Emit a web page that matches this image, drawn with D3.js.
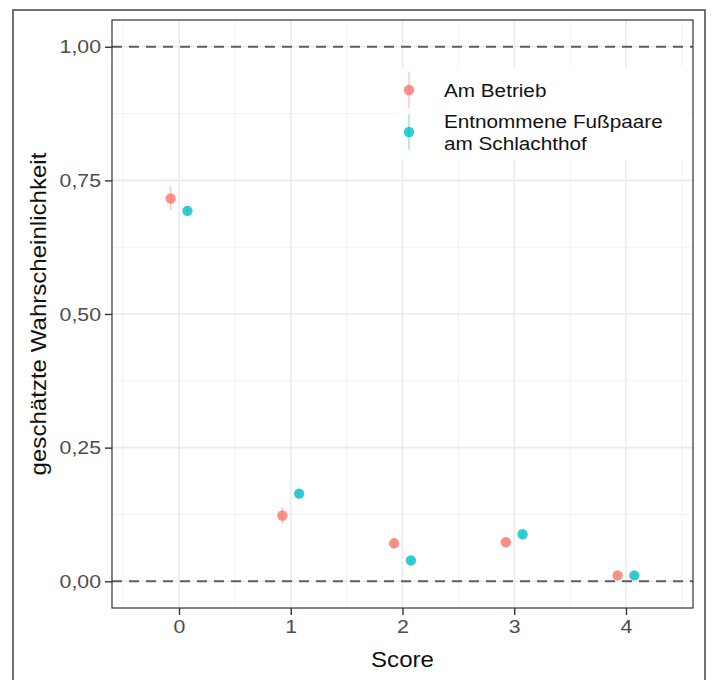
<!DOCTYPE html>
<html>
<head>
<meta charset="utf-8">
<script src="https://cdn.jsdelivr.net/npm/d3@7"></script>
<style>
  body { margin: 0; background: #fff; }
  svg { font-family: "Liberation Sans", Arial, sans-serif; }
</style>
</head>
<body>
<div id="chart"></div>
<script>
// scores on the x axis
var scores = [0, 1, 2, 3, 4];
var seriesNames = ["Am Betrieb", "Entnommene Fußpaare am Schlachthof"];
var seriesColors = ["#F8766D", "#00BFC4"];

// estimated probabilities
var betriebMean = [0.716, 0.123, 0.071, 0.073, 0.011];
var betriebLow  = [0.694, 0.108, 0.062, 0.064, 0.006];
var betriebHigh = [0.738, 0.138, 0.080, 0.082, 0.016];

var schlachtMean = [0.693, 0.164, 0.039, 0.088, 0.011];
var schlachtLow  = [0.684, 0.156, 0.034, 0.082, 0.008];
var schlachtHigh = [0.702, 0.172, 0.044, 0.094, 0.014];

var yTicks = [0, 0.25, 0.5, 0.75, 1];
var yMinor = [0.125, 0.375, 0.625, 0.875];
var xMinor = [-0.5, 0.5, 1.5, 2.5, 3.5, 4.5];
var refLines = [0, 1];

var width = 713, height = 680;
var panel = {left: 112, top: 20, right: 693, bottom: 608};
var dodge = 0.075;
var sx = 1.12; // the text in the picture is a little wider than the font

var svg = d3.select('#chart').append('svg')
  .attr('width', width)
  .attr('height', height);

// outer frame round the figure
svg.append('rect')
  .attr('x', 13).attr('y', 10)
  .attr('width', 692).attr('height', 680)
  .attr('fill', 'none')
  .attr('stroke', '#444')
  .attr('stroke-width', 1.5);

var x = d3.scaleLinear()
  .domain([-0.6, 4.6])
  .range([panel.left, panel.right]);

var y = d3.scaleLinear()
  .domain([-0.05, 1.05])
  .range([panel.bottom, panel.top]);

var fmt = function(v) { return d3.format('.2f')(v).replace('.', ','); };

// grid
var grid = svg.append('g');
grid.selectAll('.yminor').data(yMinor).enter().append('line')
  .attr('x1', panel.left).attr('x2', panel.right)
  .attr('y1', function(d) { return y(d); }).attr('y2', function(d) { return y(d); })
  .attr('stroke', '#F2F2F2').attr('stroke-width', 1);
grid.selectAll('.xminor').data(xMinor).enter().append('line')
  .attr('y1', panel.top).attr('y2', panel.bottom)
  .attr('x1', function(d) { return x(d); }).attr('x2', function(d) { return x(d); })
  .attr('stroke', '#F2F2F2').attr('stroke-width', 1);
grid.selectAll('.ymajor').data(yTicks).enter().append('line')
  .attr('x1', panel.left).attr('x2', panel.right)
  .attr('y1', function(d) { return y(d); }).attr('y2', function(d) { return y(d); })
  .attr('stroke', '#EBEBEB').attr('stroke-width', 1.6);
grid.selectAll('.xmajor').data(scores).enter().append('line')
  .attr('y1', panel.top).attr('y2', panel.bottom)
  .attr('x1', function(d) { return x(d); }).attr('x2', function(d) { return x(d); })
  .attr('stroke', '#EBEBEB').attr('stroke-width', 1.6);

// dashed reference lines at 0 and 1
svg.selectAll('.ref').data(refLines).enter().append('line')
  .attr('x1', panel.left).attr('x2', panel.right)
  .attr('y1', function(d) { return y(d); }).attr('y2', function(d) { return y(d); })
  .attr('stroke', '#5E5E5E').attr('stroke-width', 2)
  .attr('stroke-dasharray', '10,7');

// points with ranges
var series = [
  {mean: betriebMean, low: betriebLow, high: betriebHigh, off: -dodge},
  {mean: schlachtMean, low: schlachtLow, high: schlachtHigh, off: dodge}
];
series.forEach(function(s, k) {
  var rows = scores.map(function(sc, i) {
    return {x: sc + s.off, m: s.mean[i], lo: s.low[i], hi: s.high[i]};
  });
  var g = svg.append('g');
  g.selectAll('line').data(rows).enter().append('line')
    .attr('x1', function(d) { return x(d.x); }).attr('x2', function(d) { return x(d.x); })
    .attr('y1', function(d) { return y(d.lo); }).attr('y2', function(d) { return y(d.hi); })
    .attr('stroke', seriesColors[k]).attr('stroke-opacity', 0.5).attr('stroke-width', 1.2);
  g.selectAll('circle').data(rows).enter().append('circle')
    .attr('cx', function(d) { return x(d.x); })
    .attr('cy', function(d) { return y(d.m); })
    .attr('r', 5.2)
    .attr('fill', seriesColors[k]).attr('fill-opacity', 0.8);
});

// panel border
svg.append('rect')
  .attr('x', panel.left).attr('y', panel.top)
  .attr('width', panel.right - panel.left).attr('height', panel.bottom - panel.top)
  .attr('fill', 'none').attr('stroke', '#333').attr('stroke-width', 1.2);

// axes
var yAxis = svg.append('g')
  .attr('transform', 'translate(' + panel.left + ',0)')
  .call(d3.axisLeft(y).tickValues(yTicks).tickFormat(fmt).tickSize(7).tickPadding(4));
var xAxis = svg.append('g')
  .attr('transform', 'translate(0,' + panel.bottom + ')')
  .call(d3.axisBottom(x).tickValues(scores).tickFormat(d3.format('d')).tickSize(7).tickPadding(5));
[yAxis, xAxis].forEach(function(a) {
  a.select('.domain').remove();
  a.selectAll('.tick line').attr('stroke', '#333').attr('stroke-width', 1.4);
  a.selectAll('.tick text').attr('fill', '#4D4D4D').style('font-size', '19px');
});
yAxis.selectAll('.tick text')
  .attr('x', -11 / sx)
  .attr('transform', 'scale(' + sx + ',1)');
xAxis.selectAll('.tick text')
  .attr('transform', 'scale(' + sx + ',1)');

svg.append('text')
  .attr('transform', 'translate(' + ((panel.left + panel.right) / 2) + ',667) scale(' + sx + ',1)')
  .attr('text-anchor', 'middle')
  .style('font-size', '21.5px').attr('fill', '#111')
  .text('Score');

svg.append('text')
  .attr('transform', 'translate(46,' + ((panel.top + panel.bottom) / 2) + ') rotate(-90) scale(' + sx + ',1)')
  .attr('text-anchor', 'middle')
  .style('font-size', '21.5px').attr('fill', '#111')
  .text('geschätzte Wahrscheinlichkeit');

// legend
var legend = svg.append('g');
legend.append('rect')
  .attr('x', 398).attr('y', 68).attr('width', 290).attr('height', 92)
  .attr('fill', '#fff');
var legendRows = [
  {y: 90, lines: ['Am Betrieb']},
  {y: 132, lines: ['Entnommene Fußpaare', 'am Schlachthof']}
];
legendRows.forEach(function(r, k) {
  legend.append('line')
    .attr('x1', 409).attr('x2', 409)
    .attr('y1', r.y - 18).attr('y2', r.y + 18)
    .attr('stroke', seriesColors[k]).attr('stroke-opacity', 0.5).attr('stroke-width', 1.2);
  legend.append('circle')
    .attr('cx', 409).attr('cy', r.y).attr('r', 5.2)
    .attr('fill', seriesColors[k]).attr('fill-opacity', 0.8);
  var t = legend.append('text')
    .attr('transform', 'translate(444,' + (r.y - (r.lines.length - 1) * 11 + 7) + ') scale(' + sx + ',1)')
    .style('font-size', '18.5px').attr('fill', '#111');
  r.lines.forEach(function(line, j) {
    t.append('tspan').attr('x', 0).attr('dy', j ? 22 : 0).text(line);
  });
});
</script>
</body>
</html>
